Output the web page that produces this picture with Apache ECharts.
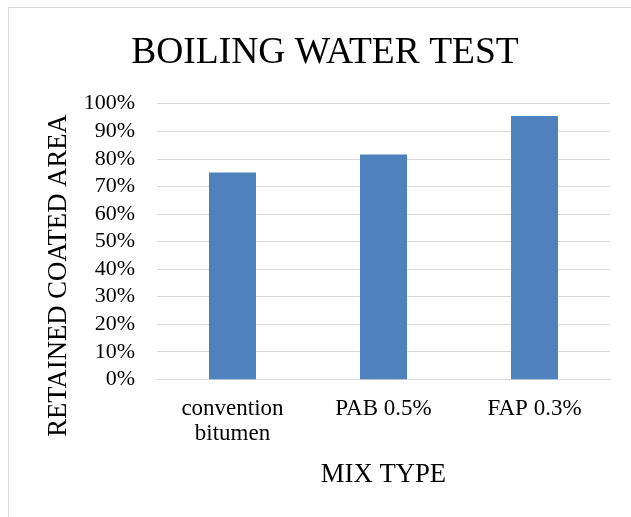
<!DOCTYPE html>
<html>
<head>
<meta charset="utf-8">
<script src="https://cdn.jsdelivr.net/npm/echarts@6/dist/echarts.min.js"></script>
<style>
  html, body { margin: 0; padding: 0; background: #ffffff; }
  #chart { width: 631px; height: 517px; }
</style>
</head>
<body>
<div id="chart"></div>
<script>
// Mix types on the category axis
const categories = ['convention\nbitumen', 'PAB 0.5%', 'FAP 0.3%'];
// Retained coated area after the boiling water test, in percent
const retainedArea = [75, 81.6, 95.5];
// Value axis ticks (percent)
const yMin = 0;
const yMax = 100;
const yStep = 10;

const FONT = '"Liberation Serif", "Times New Roman", serif';

const chart = echarts.init(document.getElementById('chart'), null, { renderer: 'canvas' });

chart.setOption({
  backgroundColor: '#ffffff',
  animation: false,
  title: {
    text: 'BOILING WATER TEST',
    left: 325,
    textAlign: 'center',
    top: 35,
    padding: 0,
    textStyle: { fontFamily: FONT, fontSize: 37.5, fontWeight: 'normal', color: '#000000', lineHeight: 37 }
  },
  graphic: [{
    type: 'rect',
    silent: true,
    shape: { x: 8.5, y: 7.5, width: 700, height: 600 },
    style: { fill: 'none', stroke: '#d9d9d9', lineWidth: 1 }
  }],
  grid: { left: 157, right: 21, top: 103.7, bottom: 137.7, containLabel: false },
  xAxis: {
    type: 'category',
    data: categories,
    name: 'MIX TYPE',
    nameLocation: 'middle',
    nameGap: 82,
    nameTextStyle: { fontFamily: FONT, fontSize: 26.7, color: '#000000', lineHeight: 27 },
    axisLine: { show: true, lineStyle: { color: '#d9d9d9', width: 1 } },
    axisTick: { show: false },
    axisLabel: { fontFamily: FONT, fontSize: 23, color: '#000000', lineHeight: 25, margin: 17, interval: 0 }
  },
  yAxis: {
    type: 'value',
    min: yMin,
    max: yMax,
    interval: yStep,
    name: 'RETAINED COATED AREA',
    nameLocation: 'middle',
    nameRotate: 90,
    nameGap: 84,
    nameTextStyle: { fontFamily: FONT, fontSize: 26.7, color: '#000000', lineHeight: 27, padding: [0, 68, 0, 0] },
    axisLine: { show: false },
    axisTick: { show: false },
    splitLine: { show: true, lineStyle: { color: '#d9d9d9', width: 1 } },
    axisLabel: { fontFamily: FONT, fontSize: 22, color: '#000000', margin: 22, formatter: '{value}%' }
  },
  series: [{
    type: 'bar',
    data: retainedArea,
    barWidth: 47,
    itemStyle: { color: '#4f81bd' }
  }]
});
</script>
</body>
</html>
